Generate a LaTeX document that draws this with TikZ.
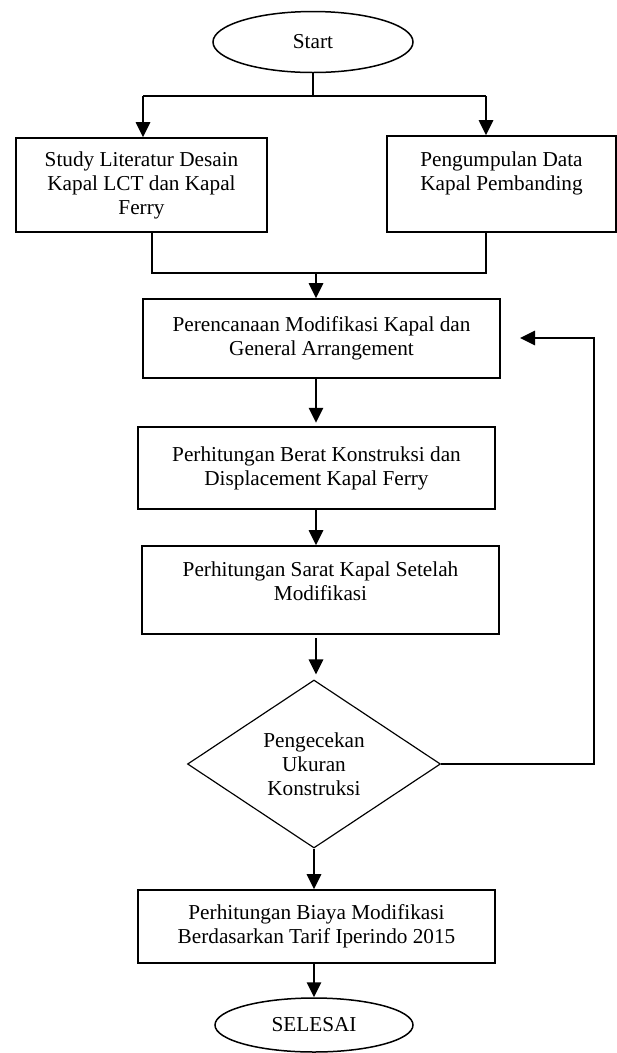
\documentclass[tikz,border=0pt]{standalone}
\usepackage{fontspec}
\setmainfont{Liberation Serif}
\usetikzlibrary{shapes.geometric,arrows.meta}
\begin{document}
\begin{tikzpicture}[x=0.6pt,y=-0.6pt,
  txt/.style={font=\fontsize{12.75pt}{14.4pt}\selectfont,align=center,inner sep=0pt},
  stepbox/.style={txt,draw,rectangle,line width=1pt},
  term/.style={txt,draw,ellipse,line width=0.9pt},
  decide/.style={txt,draw,diamond,line width=0.7pt,aspect=1.5},
  arr/.style={line width=1.4pt,-{Triangle[length=9pt,width=8.5pt]}},
  conn/.style={line width=0.9pt},
  bar/.style={line width=1.4pt}]
\useasboundingbox (0,0) rectangle (617,1053);
\node[term,minimum width=120pt,minimum height=36.6pt] (start) at (313,42) {Start};
\node[stepbox,minimum width=150.6pt,minimum height=56.4pt] (L) at (141.5,185) {Study Literatur Desain\\Kapal LCT dan Kapal\\Ferry};
\node[stepbox,minimum width=137.4pt,minimum height=57.6pt,text depth=16pt] (R) at (501.5,184) {Pengumpulan Data\\Kapal Pembanding};
\node[stepbox,minimum width=214.2pt,minimum height=47.4pt] (P) at (321.5,338.5) {Perencanaan Modifikasi Kapal dan\\General Arrangement};
\node[stepbox,minimum width=214.2pt,minimum height=49.2pt] (B) at (316.5,468) {Perhitungan Berat Konstruksi dan\\Displacement Kapal Ferry};
\node[stepbox,minimum width=214.2pt,minimum height=52.8pt,text depth=11pt] (S) at (320.5,590) {Perhitungan Sarat Kapal Setelah\\Modifikasi};
\node[decide,minimum width=151.8pt,minimum height=100.8pt] (D) at (314,764) {Pengecekan\\Ukuran\\Konstruksi};
\node[stepbox,minimum width=214.2pt,minimum height=43.8pt] (Bi) at (316.5,926.5) {Perhitungan Biaya Modifikasi\\Berdasarkan Tarif Iperindo 2015};
\node[term,minimum width=118.8pt,minimum height=32.4pt] (end) at (314,1025) {SELESAI};
% split from start
\coordinate (ja) at (316,96);
\coordinate (la) at (143,96);
\coordinate (ra) at (486,96);
\draw[conn] (start.south) -- (start.south |- ja);
\draw[bar] (la) -- (ra);
\draw[arr] (la) -- (la |- L.north);
\draw[arr] (ra) -- (ra |- R.north);
% join
\coordinate (lb) at (152,273);
\coordinate (rb) at (486,273);
\coordinate (jb) at (316,273);
\draw[conn] (lb |- L.south) -- (lb) -- (rb) -- (rb |- R.south);
\draw[arr] (jb) -- (jb |- P.north);
% main column
\draw[arr,shorten >=2pt] (jb |- P.south) -- (jb |- B.north);
\draw[arr] (jb |- B.south) -- (jb |- S.north);
\draw[arr,shorten <=2pt,shorten >=3pt] (jb |- S.south) -- (jb |- D.north);
\draw[arr] (D.south) -- (D.south |- Bi.north);
\draw[arr] (Bi.south -| end.north) -- (end.north);
% loop back
\coordinate (lp) at (594,338);
\coordinate (lt) at (520,338);
\draw[arr] (D.east) -| (lp) -- (lt);
\end{tikzpicture}
\end{document}
